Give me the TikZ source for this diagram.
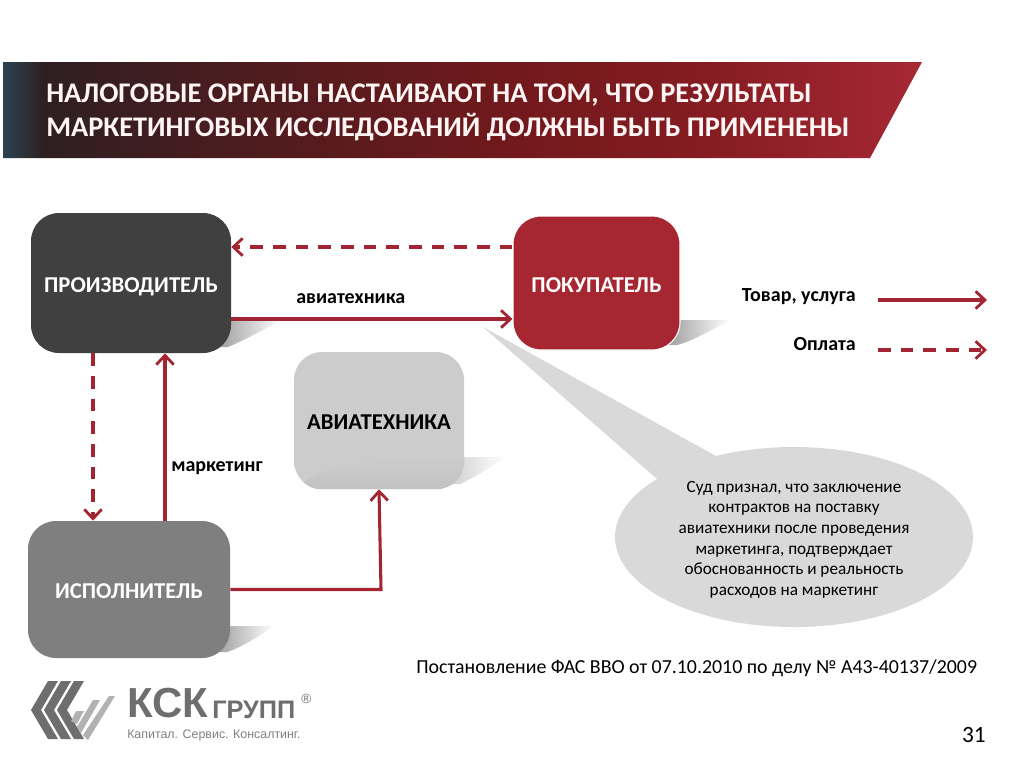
\documentclass[tikz,border=0pt]{standalone}
\usepackage{fontspec}
\setmainfont{Carlito}
\newfontfamily\logofont{Liberation Sans}
\usetikzlibrary{arrows.meta,shapes.geometric,shadings,fadings}
\definecolor{wine}{RGB}{166,38,50}
\definecolor{linecol}{RGB}{163,36,50}
\definecolor{darkbox}{RGB}{64,64,64}
\definecolor{midbox}{RGB}{127,127,127}
\definecolor{lightbox}{RGB}{204,204,204}
\definecolor{bubble}{RGB}{217,217,217}
\definecolor{logodark}{RGB}{110,110,110}
\definecolor{logolight}{RGB}{178,178,178}
\definecolor{tA}{RGB}{42,66,82}
\definecolor{tB}{RGB}{44,52,60}
\definecolor{tC}{RGB}{46,31,33}
\definecolor{tD}{RGB}{78,28,30}
\definecolor{tE}{RGB}{112,25,28}
\definecolor{tG}{RGB}{132,28,34}
\definecolor{tF}{RGB}{166,40,52}
\pgfdeclarehorizontalshading{titleshade}{100bp}{
 color(0bp)=(tA); color(25bp)=(tA); color(26bp)=(tB); color(27.2bp)=(tC);
 color(38.4bp)=(tD); color(52bp)=(tE); color(63bp)=(tG); color(75bp)=(tF); color(100bp)=(tF)}
\tikzset{
 boxnode/.style={rounded corners=21pt,inner sep=0pt,font=\fontsize{17}{20}\selectfont\bfseries,align=center},
 boxtext/.style={text depth=0pt,yshift=-1.2pt},
 flow/.style={draw=linecol,line width=2.3pt,-{Straight Barb[length=7pt,width=13pt,line width=2.1pt]}},
 flowdash/.style={flow,dash pattern=on 9.5pt off 7.5pt},
 lbl/.style={font=\fontsize{15}{18}\selectfont\bfseries,inner sep=0pt},
 shadowshape/.style={left color=black!38,right color=white,draw=none},
 chev/.style={fill=logodark,draw=none},
 bar/.style={fill=logolight,draw=none}
}
\begin{document}
\begin{tikzpicture}[x=0.75pt,y=-0.75pt]
\useasboundingbox (0,0) rectangle (1024,768);
\fill[white] (0,0) rectangle (1024,768);
% title band
\shade[shading=titleshade] (3,62) -- (922,62) -- (870,158) -- (3,158) -- cycle;
\node[anchor=west,inner sep=0pt,text=white!96!red,align=left,font=\fontsize{21.3}{25.5}\selectfont\bfseries] (title) at (46,112.5)
 {НАЛОГОВЫЕ ОРГАНЫ НАСТАИВАЮТ НА ТОМ, ЧТО РЕЗУЛЬТАТЫ\\МАРКЕТИНГОВЫХ ИССЛЕДОВАНИЙ ДОЛЖНЫ БЫТЬ ПРИМЕНЕНЫ};
% soft box shadows
\shade[shadowshape] (218,320) -- (281,320) .. controls (262,331) and (240,342) .. (228,347) -- (218,347) -- cycle;
\shade[shadowshape] (667,320) -- (730,320) .. controls (708,332) and (690,342) .. (677,345) -- (667,345) -- cycle;
\shade[shadowshape,left color=black!18] (451,457) -- (506,457) .. controls (490,468) and (472,478) .. (461,484) -- (451,484) -- cycle;
\shade[shadowshape] (217,626) -- (274,626) .. controls (258,637) and (240,648) .. (227,652) -- (217,652) -- cycle;
% callout
\node[ellipse,fill=bubble,minimum width=268.5pt,minimum height=135pt,inner sep=0pt] (court) at (794,537) {};
\coordinate (calloutTip) at (483,327);
\fill[bubble] (calloutTip) -- (court.134) -- (court.157) -- cycle;
\node[inner sep=0pt,align=center,font=\fontsize{12.9}{15.5}\selectfont] (courttext) at (794,539.5)
 {Суд признал, что заключение\\контрактов на поставку\\авиатехники после проведения\\маркетинга, подтверждает\\обоснованность и реальность\\расходов на маркетинг};
% boxes
\node[boxnode,fill=darkbox,minimum width=150pt,minimum height=105pt] (prod) at (131,283) {};
\node[boxnode,fill=wine,draw=white,line width=0.8pt,minimum width=125.25pt,minimum height=100.5pt] (buyer) at (596.5,283) {};
\node[boxnode,fill=lightbox,minimum width=127.5pt,minimum height=102.75pt] (goods) at (379,420.5) {};
\begin{scope}
 \clip[rounded corners=21pt] (goods.south west) rectangle (goods.north east);
 \shade[top color=lightbox,bottom color=black!24] (294,489) .. controls (320,466) and (360,459) .. (464,458) -- (464,489) -- cycle;
\end{scope}
\node[boxnode,fill=midbox,minimum width=151.5pt,minimum height=102.75pt] (exec) at (129,589.5) {};
\node[boxnode,boxtext,text=white] (prodtext) at (prod) {ПРОИЗВОДИТЕЛЬ};
\node[boxnode,boxtext,text=white] (buyertext) at (buyer) {ПОКУПАТЕЛЬ};
\node[boxnode,boxtext,text=black] (goodstext) at (goods) {АВИАТЕХНИКА};
\node[boxnode,boxtext,text=white] (exectext) at (exec) {ИСПОЛНИТЕЛЬ};
% connectors
\draw[flowdash] (buyer.west |- 0,247) -- (prod.east |- 0,247);
\draw[flow] (prod.east |- 0,319) -- (buyer.west |- 0,319);
\draw[flowdash] (prod.south -| 93,0) -- (exec.north -| 93,0);
\draw[flow] (exec.north -| 165,0) -- (prod.south -| 165,0);
\draw[flow] (exec.east) -- (exec.east -| 381,0) -- (goods.south -| 379,0);
% labels
\node[lbl,anchor=west] (lblavia) at (296,298.5) {авиатехника};
\node[lbl,anchor=west] (lblmark) at (171,468.5) {маркетинг};
\node[lbl,anchor=east] (lblgoods) at (856,296.5) {Товар, услуга};
\node[lbl,anchor=east] (lblpay) at (856,344) {Оплата};
\coordinate (legA1) at (878,300); \coordinate (legA2) at (987,300);
\coordinate (legB1) at (878,350); \coordinate (legB2) at (987,350);
\draw[flow] (legA1) -- (legA2);
\draw[flowdash] (legB1) -- (legB2);
% footer
\node[anchor=west,inner sep=0pt,font=\fontsize{14.9}{18}\selectfont] (ref) at (416,668.5) {Постановление ФАС ВВО от 07.10.2010 по делу № А43-40137/2009};
\node[anchor=east,inner sep=0pt,font=\fontsize{17.5}{20}\selectfont] (page) at (986,735) {31};
% logo
\foreach \d in {0,13,26}{
 \fill[chev] ({31+\d},710) -- ({48+\d},681) -- ({58+\d},681) -- ({41+\d},710) -- ({58+\d},739) -- ({48+\d},739) -- cycle;
}
\fill[bar] (71,721) -- (76,711) -- (84,711) -- (77,724) -- cycle;
\fill[bar] (77,727) -- (93,700) -- (100,700) -- (81,733) -- cycle;
\fill[bar] (83,735) -- (109,696) -- (115,696) -- (88,740) -- cycle;
\node[anchor=west,inner sep=0pt,text=logodark,font=\logofont\bfseries\fontsize{31.5}{32}\selectfont] (ksk) at (127,703) {КСК};
\node[anchor=west,inner sep=0pt,text=logodark,font=\logofont\bfseries\fontsize{19}{20}\selectfont] (grp) at (212,710) {ГРУПП};
\node[anchor=west,inner sep=0pt,text=logodark,font=\logofont\fontsize{10}{11}\selectfont] (reg) at (301,699) {®};
\node[anchor=west,inner sep=0pt,text=gray,font=\logofont\fontsize{9.3}{11}\selectfont] (tag) at (127,735) {Капитал. Сервис. Консалтинг.};
\end{tikzpicture}
\end{document}
